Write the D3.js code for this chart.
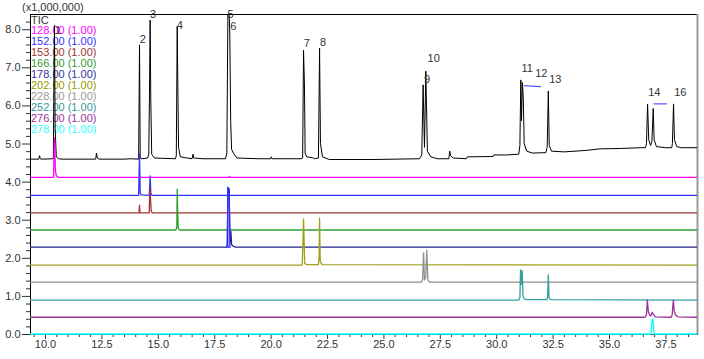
<!DOCTYPE html>
<html>
<head>
<meta charset="utf-8">
<script src="https://cdn.jsdelivr.net/npm/d3@7"></script>
<style>
  html, body { margin: 0; padding: 0; background: #fff; }
  svg { display: block; }
  text { font-family: "Liberation Sans", Arial, sans-serif; }
</style>
</head>
<body>
<svg id="chart" width="704" height="359"></svg>
<script>
// ---------------- DATA (intensity in x1,000,000) ----------------
const xMajorTicks = [10.0, 12.5, 15.0, 17.5, 20.0, 22.5, 25.0, 27.5, 30.0, 32.5, 35.0, 37.5];
const yMajorTicks = [0, 1, 2, 3, 4, 5, 6, 7, 8];
const legendNames = ["TIC", "128.00 (1.00)", "152.00 (1.00)", "153.00 (1.00)", "166.00 (1.00)",
  "178.00 (1.00)", "202.00 (1.00)", "228.00 (1.00)", "252.00 (1.00)", "276.00 (1.00)", "278.00 (1.00)"];

const tic = [[9.335,4.59],[9.72,4.59],[9.76,4.68],[9.79,4.6],[9.83,4.59],[10.37,4.6],[10.40,7.0],[10.42,8.1],[10.45,5.4],[10.5,4.65],
  [10.6,4.6],[10.8,4.59],[12.25,4.59],[12.28,4.75],[12.32,4.62],[12.4,4.59],[13.5,4.59],[13.8,4.6],[14.15,4.59],[14.19,7.59],
  [14.22,4.62],[14.3,4.6],[14.55,4.62],[14.6,4.72],[14.63,6.25],[14.66,8.24],[14.69,6.1],[14.73,4.72],[14.85,4.62],[15.78,4.6],
  [15.82,4.68],[15.86,8.07],[15.89,6.39],[15.92,4.9],[16.0,4.65],[16.3,4.62],[16.52,4.6],[16.56,4.72],[16.6,4.62],[17.0,4.6],
  [18.0,4.6],[18.06,4.75],[18.11,8.6],[18.15,8.6],[18.19,7.9],[18.23,5.6],[18.27,4.85],[18.35,4.75],[18.5,4.62],[19.5,4.6],
  [20.0,4.6],[20.03,4.65],[20.06,4.6],[21.35,4.6],[21.42,4.62],[21.46,7.45],[21.5,6.54],[21.53,4.75],[21.6,4.65],[21.85,4.63],
  [21.95,4.6],[22.12,4.62],[22.17,7.5],[22.21,5.0],[22.3,4.65],[22.6,4.58],[24.5,4.58],[26.6,4.6],[26.7,4.7],[26.76,6.54],
  [26.82,4.9],[26.88,6.9],[26.95,4.8],[27.1,4.65],[27.4,4.6],[27.9,4.6],[27.94,4.8],[27.98,4.68],[28.1,4.62],[28.68,4.6],
  [28.72,4.65],[29.86,4.66],[29.9,4.7],[30.5,4.7],[31.0,4.72],[31.05,4.95],[31.09,6.67],[31.12,5.6],[31.16,6.6],[31.2,6.2],
  [31.24,5.0],[31.35,4.8],[31.6,4.75],[32.2,4.76],[32.26,4.9],[32.31,6.38],[32.35,4.95],[32.45,4.8],[33.0,4.78],[34.0,4.82],
  [34.6,4.86],[35.5,4.87],[36.4,4.89],[36.62,4.89],[36.66,5.0],[36.71,6.03],[36.76,5.1],[36.84,4.95],[36.9,5.05],[36.96,5.92],
  [37.0,5.1],[37.1,4.92],[37.5,4.89],[37.78,4.89],[37.81,5.0],[37.86,6.04],[37.9,5.1],[38.0,4.92],[38.2,4.89],[38.9,4.89]];

const mz128 = [[9.335,4.11],[10.38,4.11],[10.42,5.15],[10.46,4.3],[10.5,4.15],[10.6,4.11],[18.15,4.11],[18.18,4.14],[18.21,4.11],[38.9,4.11]];
const mz152 = [[9.335,3.64],[14.15,3.64],[14.19,4.72],[14.22,3.7],[14.26,3.65],[14.62,3.64],[14.66,4.15],[14.69,3.7],[14.74,3.64],[38.9,3.64]];
const mz153 = [[9.335,3.18],[14.17,3.18],[14.19,3.38],[14.21,3.18],[14.62,3.18],[14.65,3.85],[14.68,3.5],[14.71,3.22],[14.76,3.18],[38.9,3.18]];
const mz166 = [[9.335,2.73],[15.8,2.73],[15.84,2.8],[15.86,3.8],[15.88,3.25],[15.91,2.76],[15.98,2.73],[38.9,2.73]];
const mz178 = [[9.335,2.28],[18.05,2.28],[18.08,2.33],[18.11,3.84],[18.16,3.8],[18.2,2.4],[18.24,2.69],[18.27,2.35],[18.35,2.3],[18.45,2.28],[38.9,2.28]];
const mz202 = [[9.335,1.81],[21.4,1.81],[21.43,2.34],[21.46,3.02],[21.48,2.6],[21.51,1.85],[21.6,1.82],[22.12,1.82],[22.15,2.05],[22.17,3.04],[22.2,1.9],[22.28,1.82],[38.9,1.81]];
const mz228 = [[9.335,1.36],[26.7,1.36],[26.74,1.45],[26.78,2.13],[26.82,1.42],[26.88,1.5],[26.92,2.2],[26.97,1.42],[27.05,1.36],[38.9,1.36]];
const mz252 = [[9.335,0.89],[31.0,0.89],[31.05,0.95],[31.08,1.68],[31.12,1.3],[31.15,1.66],[31.19,1.0],[31.25,0.92],[31.35,0.9],[32.25,0.9],[32.28,1.0],[32.31,1.55],[32.34,0.95],[32.42,0.9],[38.9,0.89]];
const mz276 = [[9.335,0.44],[36.6,0.44],[36.66,0.5],[36.7,0.89],[36.74,0.6],[36.8,0.5],[36.85,0.47],[36.92,0.57],[36.98,0.5],[37.05,0.45],[37.75,0.44],[37.8,0.5],[37.85,0.89],[37.89,0.6],[37.95,0.5],[38.05,0.45],[38.9,0.44]];
const mz278 = [[9.335,0.0],[36.86,0.0],[36.9,0.3],[36.93,0.41],[36.96,0.3],[37.0,0.0],[38.9,0.0]];

const peakLabels = ["1","2","3","4","5","6","7","8","9","10","11","12","13","14","16"];
const peakLabelT = [10.58,14.34,14.79,15.98,18.22,18.35,21.61,22.32,26.93,27.23,31.37,32.0,32.62,37.01,38.16];
const peakLabelV = [7.98,7.74,8.40,8.11,8.41,8.08,7.63,7.67,6.69,7.25,6.98,6.85,6.69,6.35,6.35];

const integrationBars = [[31.22,31.98,6.52,6.49],[36.97,37.57,6.04,6.04]];
const highlightRange = [18.08, 18.2];   // shaded peak of the 178 trace

// ---------------- DRAWING ----------------
const svg = d3.select("#chart");
const L = 30, R = 697, T = 14, B = 334;
const x = d3.scaleLinear().domain([9.335, 38.9]).range([L, R]);
const y = d3.scaleLinear().domain([0, 8.4]).range([B, T]);

const colors = ["#000000","#ff00ff","#3333ff","#a33333","#33a033","#222290","#a0a020","#909090","#33a0a0","#993399","#00ffff"];
const textColors = ["#333333","#ff00ff","#3333ff","#993333","#339933","#333399","#999900","#999999","#339999","#993399","#33ffff"];
const series = [tic, mz128, mz152, mz153, mz166, mz178, mz202, mz228, mz252, mz276, mz278];

svg.append("defs").append("clipPath").attr("id","clip")
  .append("rect").attr("x", L).attr("y", T).attr("width", R - L).attr("height", B - T + 1);

// frame top & right
svg.append("line").attr("x1", L).attr("x2", R).attr("y1", T + 0.5).attr("y2", T + 0.5).attr("stroke", "#000").attr("stroke-width", 1);
svg.append("line").attr("x1", R + 0.5).attr("x2", R + 0.5).attr("y1", T).attr("y2", B + 1).attr("stroke", "#999").attr("stroke-width", 2);

// x axis
const xAxis = d3.axisBottom(x).tickValues(xMajorTicks).tickSize(5).tickSizeOuter(0).tickFormat(d3.format(".1f"));
const xMinor = d3.range(9.5, 38.9, 0.5).filter(v => !xMajorTicks.some(m => Math.abs(m - v) < 1e-6));
const gx = svg.append("g").attr("transform", `translate(0,${B})`).call(xAxis);
gx.select(".domain").attr("stroke", "#555");
gx.selectAll(".tick line").attr("stroke", "#333");
gx.selectAll(".tick text").attr("fill", "#333").attr("font-size", 11).attr("dy", "0.75em").attr("y", 6);
svg.append("g").attr("transform", `translate(0,${B})`)
  .call(d3.axisBottom(x).tickValues(xMinor).tickSize(3).tickSizeOuter(0).tickFormat(""))
  .call(g => g.select(".domain").remove())
  .selectAll(".tick line").attr("stroke", "#333");

// y axis
const yAxis = d3.axisLeft(y).tickValues(yMajorTicks).tickSize(8).tickSizeOuter(0).tickFormat(d3.format(".1f"));
const yMinor = d3.range(0.2, 8.4, 0.2).filter(v => !yMajorTicks.some(m => Math.abs(m - v) < 1e-6));
const gy = svg.append("g").attr("transform", `translate(${L},0)`).call(yAxis);
gy.select(".domain").attr("stroke", "#000");
gy.selectAll(".tick line").attr("stroke", "#333");
gy.selectAll(".tick text").attr("fill", "#333").attr("font-size", 11).attr("x", -9.5);
svg.append("g").attr("transform", `translate(${L},0)`)
  .call(d3.axisLeft(y).tickValues(yMinor).tickSize(4).tickSizeOuter(0).tickFormat(""))
  .call(g => g.select(".domain").remove())
  .selectAll(".tick line").attr("stroke", "#333");

// multiplier label
svg.append("text").attr("x", 22).attr("y", 11).attr("font-size", 11).attr("fill", "#333").text("(x1,000,000)");

// legend
svg.append("g").selectAll("text").data(legendNames).join("text")
  .attr("x", 31).attr("y", (d, i) => 23.5 + i * 10.9)
  .attr("font-size", 11).attr("fill", (d, i) => textColors[i]).text(d => d);

// traces
const line = d3.line().x(d => x(d[0])).y(d => y(d[1]));
const gt = svg.append("g").attr("clip-path", "url(#clip)");
series.forEach((s, i) => {
  gt.append("path").datum(s).attr("d", line).attr("fill", "none")
    .attr("stroke", colors[i]).attr("stroke-width", i === 0 ? 1 : 1.3).attr("stroke-linejoin", "round");
});

// highlighted 178 peak (shaded, bright blue)
const hl = mz178.filter(d => d[0] >= highlightRange[0] - 0.031 && d[0] <= highlightRange[1] + 0.001);
const base178 = mz178[0][1];
gt.append("path").datum(hl)
  .attr("d", d3.area().x(d => x(d[0])).y0(y(base178)).y1(d => y(d[1])))
  .attr("fill", "#9a9ae6").attr("stroke", "#2a2aff").attr("stroke-width", 1.2);

// integration bars
svg.append("g").selectAll("line").data(integrationBars).join("line")
  .attr("x1", d => x(d[0])).attr("x2", d => x(d[1])).attr("y1", d => y(d[2])).attr("y2", d => y(d[3]))
  .attr("stroke", "#3333ff").attr("stroke-width", 1);

// peak labels
svg.append("g").selectAll("text").data(peakLabels).join("text")
  .attr("x", (d, i) => x(peakLabelT[i])).attr("y", (d, i) => y(peakLabelV[i]) + 4)
  .attr("text-anchor", "middle").attr("font-size", 11).attr("fill", "#333").text(d => d);
</script>
</body>
</html>
